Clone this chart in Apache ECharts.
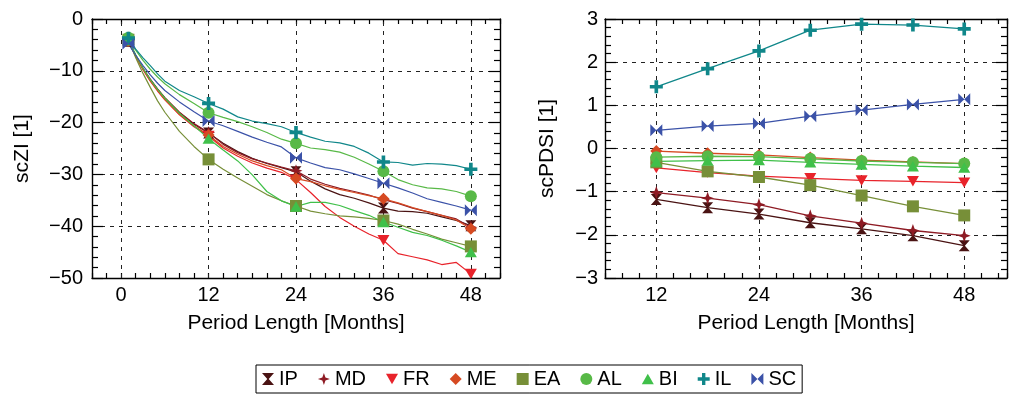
<!DOCTYPE html>
<html>
<head>
<meta charset="utf-8">
<script src="https://cdn.jsdelivr.net/npm/echarts@6/dist/echarts.min.js"></script>
<style>
  html, body { margin: 0; padding: 0; background: #fff; }
  #chart { width: 1010px; height: 394px; }
</style>
</head>
<body>
<div id="chart"></div>
<script>
// ---- scZI: cumulative index against period length (months) ----
const months = [1, 2, 3, 4, 5, 6, 8, 10, 12, 14, 16, 18, 20, 22, 24, 26, 28, 30, 32, 34, 36, 38, 40, 42, 44, 46, 48];
const markerMonths = [1, 12, 24, 36, 48];
const scziTicks = [0, 12, 24, 36, 48];

const scziIP = [-4.3, -7.1, -9.6, -11.7, -13.6, -15.3, -18.1, -20.3, -22.0, -24.0, -25.6, -26.9, -27.9, -28.7, -29.5, -31.3, -32.8, -33.9, -34.6, -35.5, -36.5, -37.1, -37.2, -37.5, -38.2, -38.9, -39.9];
const scziMD = [-4.2, -7.0, -9.5, -11.6, -13.5, -15.2, -18.0, -20.2, -21.9, -24.2, -25.8, -27.0, -27.8, -28.6, -29.3, -30.9, -31.9, -32.7, -33.3, -34.0, -34.9, -35.6, -36.5, -37.2, -37.9, -38.6, -40.2];
const scziFR = [-4.3, -7.2, -9.8, -12.0, -13.9, -15.6, -18.5, -20.8, -22.6, -24.9, -26.5, -27.8, -28.8, -29.6, -31.0, -33.5, -36.2, -38.3, -40.0, -41.5, -42.7, -45.3, -45.9, -46.5, -47.4, -47.0, -49.2];
const scziME = [-4.2, -7.1, -9.7, -11.9, -13.8, -15.5, -18.4, -20.6, -22.4, -24.6, -26.1, -27.4, -28.3, -29.1, -30.8, -31.4, -32.2, -32.9, -33.5, -34.1, -34.7, -35.5, -36.4, -37.2, -37.9, -38.8, -40.5];
const scziEA = [-4.0, -7.5, -10.5, -13.2, -15.8, -18.0, -21.7, -24.6, -27.1, -29.0, -30.7, -32.3, -33.9, -35.1, -36.1, -37.1, -37.6, -38.0, -38.2, -38.5, -38.9, -39.6, -40.6, -41.5, -42.5, -43.2, -43.9];
const scziAL = [-3.6, -6.0, -8.0, -9.7, -11.2, -12.5, -14.6, -16.3, -18.1, -19.0, -19.8, -20.8, -21.9, -23.2, -24.0, -24.9, -25.2, -25.7, -26.7, -28.0, -29.4, -31.0, -32.0, -32.6, -32.8, -33.3, -34.2];
const scziBI = [-4.0, -6.9, -9.5, -11.7, -13.6, -15.3, -18.2, -20.6, -23.1, -25.3, -27.4, -30.1, -33.3, -35.1, -36.2, -35.4, -35.4, -36.0, -37.0, -37.9, -39.2, -40.2, -41.2, -41.8, -42.7, -43.8, -45.0];
const scziIL = [-3.7, -5.8, -7.5, -9.0, -10.6, -12.0, -13.8, -15.0, -16.3, -17.4, -18.9, -19.7, -20.2, -20.8, -21.9, -22.8, -23.6, -23.9, -24.6, -25.9, -27.6, -27.7, -28.2, -27.9, -28.0, -28.3, -29.0];
const scziSC = [-4.8, -7.0, -9.0, -10.8, -12.4, -13.8, -16.0, -17.9, -19.7, -20.6, -21.7, -22.8, -23.8, -24.7, -26.8, -27.8, -28.7, -29.1, -29.9, -30.8, -31.7, -32.6, -33.6, -34.7, -35.4, -36.1, -36.9];

// ---- scPDSI against period length (months) ----
const pdsiMonths = [12, 18, 24, 30, 36, 42, 48];
const pdsiTicks = [12, 24, 36, 48];

const pdsiIP = [-1.18, -1.37, -1.52, -1.72, -1.86, -2.02, -2.25];
const pdsiMD = [-1.02, -1.15, -1.30, -1.56, -1.73, -1.90, -2.02];
const pdsiFR = [-0.45, -0.56, -0.64, -0.69, -0.74, -0.76, -0.79];
const pdsiME = [-0.06, -0.11, -0.15, -0.21, -0.27, -0.31, -0.35];
const pdsiEA = [-0.32, -0.53, -0.66, -0.85, -1.09, -1.34, -1.55];
const pdsiAL = [-0.20, -0.18, -0.19, -0.24, -0.29, -0.32, -0.35];
const pdsiBI = [-0.30, -0.28, -0.27, -0.32, -0.37, -0.41, -0.44];
const pdsiIL = [1.43, 1.85, 2.26, 2.74, 2.88, 2.86, 2.77];
const pdsiSC = [0.42, 0.52, 0.58, 0.75, 0.89, 1.02, 1.14];

const regions = ['IP', 'MD', 'FR', 'ME', 'EA', 'AL', 'BI', 'IL', 'SC'];
const scziValues = { IP: scziIP, MD: scziMD, FR: scziFR, ME: scziME, EA: scziEA, AL: scziAL, BI: scziBI, IL: scziIL, SC: scziSC };
const pdsiValues = { IP: pdsiIP, MD: pdsiMD, FR: pdsiFR, ME: pdsiME, EA: pdsiEA, AL: pdsiAL, BI: pdsiBI, IL: pdsiIL, SC: pdsiSC };

// ---- styling ----
const colors = {
  IP: '#4a1313', MD: '#8e1b24', FR: '#e8232b', ME: '#d64a22', EA: '#778f38',
  AL: '#58b947', BI: '#40c04a', IL: '#10878a', SC: '#3b52a8'
};
const symbols = {
  IP: 'path://M0,0 L10,0 L5.6,5 L10,10 L0,10 L4.4,5 Z',
  MD: 'path://M5,0 L6.3,3.7 L10,5 L6.3,6.3 L5,10 L3.7,6.3 L0,5 L3.7,3.7 Z',
  FR: 'path://M0,0 L12,0 L6,10.4 Z',
  ME: 'path://M5,0 L10,5 L5,10 L0,5 Z',
  EA: 'rect',
  AL: 'circle',
  BI: 'path://M6,0 L12,10.4 L0,10.4 Z',
  IL: 'path://M3.6,0 L6.4,0 L6.4,3.6 L10,3.6 L10,6.4 L6.4,6.4 L6.4,10 L3.6,10 L3.6,6.4 L0,6.4 L0,3.6 L3.6,3.6 Z',
  SC: 'path://M0,0 L5,5 L0,10 Z M10,0 L10,10 L5,5 Z'
};
const sizes = { IP: 11, MD: 13, FR: 12, ME: 12, EA: 12, AL: 12, BI: 12, IL: 13, SC: 12 };

const FONT = '"Liberation Sans", Arial, Helvetica, sans-serif';
const AXIS_COLOR = '#000';
const GRID_DASH = [4, 5];
const TICK_FONT = 20;
const NAME_FONT = 21;
const minus = v => String(v).replace('-', '\u2212');

function xAxisPair(gridIndex, min, max, ticks, name) {
  const base = {
    type: 'value', gridIndex, min, max, interval: 2,
    axisLine: { show: true, onZero: false, lineStyle: { color: AXIS_COLOR, width: 1.4 } },
    axisTick: { show: true, inside: true, length: 5, lineStyle: { color: AXIS_COLOR, width: 1.2 } },
    splitLine: { show: false }
  };
  return [
    Object.assign({}, base, {
      position: 'bottom',
      name, nameLocation: 'middle', nameGap: 35,
      nameTextStyle: { fontFamily: FONT, fontSize: NAME_FONT, color: '#000' },
      axisLabel: {
        show: true, margin: 7, fontFamily: FONT, fontSize: TICK_FONT, color: '#000',
        formatter: v => (ticks.indexOf(v) >= 0 ? String(v) : '')
      }
    }),
    Object.assign({}, base, { position: 'top', axisLabel: { show: false } })
  ];
}

function yAxisPair(gridIndex, min, max, interval, name, nameGap, labelMargin) {
  const base = {
    type: 'value', gridIndex, min, max, interval,
    axisLine: { show: true, onZero: false, lineStyle: { color: AXIS_COLOR, width: 1.4 } },
    axisTick: { show: true, inside: true, length: 11, lineStyle: { color: AXIS_COLOR, width: 1.2 } },
    minorTick: { show: true, splitNumber: 5, length: 6, lineStyle: { color: AXIS_COLOR, width: 1.2 } }
  };
  return [
    Object.assign({}, base, {
      position: 'left',
      name, nameLocation: 'middle', nameGap, nameRotate: 90,
      nameTextStyle: { fontFamily: FONT, fontSize: NAME_FONT, color: '#000' },
      axisLabel: { show: true, margin: labelMargin, fontFamily: FONT, fontSize: TICK_FONT, color: '#000', formatter: minus },
      splitLine: { show: true, lineStyle: { color: '#222', type: GRID_DASH, width: 1 } }
    }),
    Object.assign({}, base, { position: 'right', axisLabel: { show: false }, splitLine: { show: false } })
  ];
}

function verticalGrid(xAxisIndex, yAxisIndex, ticks) {
  return {
    type: 'line', xAxisIndex, yAxisIndex, data: [], z: 1, silent: true,
    markLine: {
      silent: true, symbol: ['none', 'none'], z: 1, animation: false,
      label: { show: false },
      lineStyle: { color: '#222', type: GRID_DASH, width: 1 },
      emphasis: { disabled: true },
      data: ticks.map(v => ({ xAxis: v }))
    }
  };
}

const series = [verticalGrid(0, 0, scziTicks), verticalGrid(2, 2, pdsiTicks)];

regions.forEach(name => {
  const c = colors[name];
  series.push({
    name, type: 'line', xAxisIndex: 0, yAxisIndex: 0,
    data: months.map((m, i) => [m, scziValues[name][i]]),
    symbol: symbols[name], symbolKeepAspect: true, showAllSymbol: true,
    symbolSize: v => (markerMonths.indexOf(v[0]) >= 0 ? sizes[name] : 0),
    lineStyle: { color: c, width: 1.2 },
    itemStyle: { color: c, borderWidth: 0 },
    emphasis: { disabled: true }, z: 3
  });
});
regions.forEach(name => {
  const c = colors[name];
  series.push({
    name, type: 'line', xAxisIndex: 2, yAxisIndex: 2,
    data: pdsiMonths.map((m, i) => [m, pdsiValues[name][i]]),
    symbol: symbols[name], symbolKeepAspect: true, showAllSymbol: true,
    symbolSize: sizes[name],
    lineStyle: { color: c, width: 1.3 },
    itemStyle: { color: c, borderWidth: 0 },
    emphasis: { disabled: true }, z: 3
  });
});

const option = {
  animation: false,
  backgroundColor: '#fff',
  grid: [
    { left: 92, top: 19, width: 408, height: 259, containLabel: false },
    { left: 605, top: 19, width: 404, height: 259, containLabel: false }
  ],
  xAxis: [
    ...xAxisPair(0, -4, 52, scziTicks, 'Period Length [Months]'),
    ...xAxisPair(1, 6, 53, pdsiTicks, 'Period Length [Months]')
  ],
  yAxis: [
    ...yAxisPair(0, -50, 0, 10, 'scZI [1]', 59, 9),
    ...yAxisPair(1, -3, 3, 1, 'scPDSI [1]', 47, 7)
  ],
  legend: {
    left: 256, top: 365,
    orient: 'horizontal',
    padding: [4, 6, 4, 6],
    itemGap: 20, itemWidth: 12, itemHeight: 12,
    backgroundColor: '#fff', borderColor: '#000', borderWidth: 1,
    textStyle: { fontFamily: FONT, fontSize: 20, color: '#000' },
    selectedMode: false,
    data: regions.map(name => ({ name, icon: symbols[name], itemStyle: { color: colors[name] } }))
  },
  series
};

const chart = echarts.init(document.getElementById('chart'), null, { renderer: 'canvas' });
chart.setOption(option);
</script>
</body>
</html>
